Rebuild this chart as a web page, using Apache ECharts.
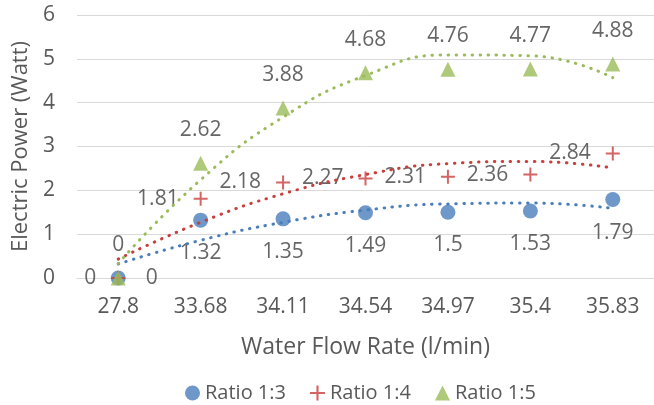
<!DOCTYPE html>
<html>
<head>
<meta charset="utf-8">
<script src="https://cdn.jsdelivr.net/npm/echarts@6/dist/echarts.min.js"></script>
<style>
  html, body { margin: 0; padding: 0; background: #fff; }
  #chart { width: 654px; height: 405px; }
</style>
</head>
<body>
<div id="chart"></div>
<script>
// Flow rates (l/min) on the category axis
const flowRates = ['27.8', '33.68', '34.11', '34.54', '34.97', '35.4', '35.83'];

// Measured electric power (Watt) per mixing ratio
const ratio13 = [0, 1.32, 1.35, 1.49, 1.5, 1.53, 1.79];
const ratio14 = [0, 1.81, 2.18, 2.27, 2.31, 2.36, 2.84];
const ratio15 = [0, 2.62, 3.88, 4.68, 4.76, 4.77, 4.88];

// Polynomial trend values at each flow rate
const trend13 = [0.32, 0.86, 1.27, 1.55, 1.69, 1.71, 1.59];
const trend14 = [0.43, 1.27, 1.92, 2.36, 2.61, 2.66, 2.51];
const trend15 = [0.33, 2.24, 3.67, 4.62, 5.09, 5.07, 4.57];

const yTicks = { min: 0, max: 6, interval: 1 };

const FONT = 'Open Sans';
const BLUE = '#4A7EBB';
const RED = '#C8403D';
const GREEN = '#9BBB59';
const TEXT = '#595959';
const PLUS = 'path://M6,0h2v6h6v2h-6v6h-2v-6h-6v-2h6z';

const chart = echarts.init(document.getElementById('chart'));

function trendSeries(data, color) {
  return {
    type: 'line',
    data: data,
    smooth: 0.5,
    symbol: 'none',
    silent: true,
    z: 5,
    lineStyle: { color: color, width: 3, type: [0.5, 7.5], cap: 'round' }
  };
}

const labelBase = { show: true, color: '#404040', fontFamily: FONT, fontSize: 21 };

chart.setOption({
  animation: false,
  textStyle: { fontFamily: FONT },
  grid: { left: 77, right: 0, top: 15, bottom: 127 },
  legend: {
    left: 180,
    top: 378,
    itemWidth: 15,
    itemHeight: 15,
    itemGap: 24,
    textStyle: { color: TEXT, fontFamily: FONT, fontSize: 20 },
    data: ['Ratio 1:3', 'Ratio 1:4', 'Ratio 1:5']
  },
  xAxis: {
    type: 'category',
    data: flowRates,
    boundaryGap: true,
    name: 'Water Flow Rate (l/min)',
    nameLocation: 'middle',
    nameGap: 58,
    nameTextStyle: { color: TEXT, fontFamily: FONT, fontSize: 23 },
    axisLine: { lineStyle: { color: '#D9D9D9' } },
    axisTick: { show: false },
    axisLabel: { color: TEXT, fontFamily: FONT, fontSize: 21, margin: 19 }
  },
  yAxis: {
    type: 'value',
    min: yTicks.min,
    max: yTicks.max,
    interval: yTicks.interval,
    name: 'Electric Power (Watt)',
    nameLocation: 'middle',
    nameGap: 45,
    nameTextStyle: { color: TEXT, fontFamily: FONT, fontSize: 22 },
    axisLine: { show: false },
    axisTick: { show: false },
    splitLine: { lineStyle: { color: '#D9D9D9', width: 1 } },
    axisLabel: { color: TEXT, fontFamily: FONT, fontSize: 21, margin: 22 }
  },
  series: [
    {
      name: 'Ratio 1:3',
      type: 'scatter',
      symbol: 'circle',
      symbolSize: 15,
      itemStyle: { color: BLUE },
      z: 3,
      label: Object.assign({}, labelBase, { position: 'bottom', distance: 15 }),
      data: ratio13.map((v, i) => i === 0 ? { value: v, label: { position: 'right', distance: 20 } } : v)
    },
    {
      name: 'Ratio 1:4',
      type: 'scatter',
      symbol: PLUS,
      symbolSize: 14,
      itemStyle: { color: RED },
      z: 3,
      label: Object.assign({}, labelBase, { position: 'left', distance: 15 }),
      data: ratio14
    },
    {
      name: 'Ratio 1:5',
      type: 'scatter',
      symbol: 'triangle',
      symbolSize: 15,
      itemStyle: { color: GREEN },
      z: 3,
      label: Object.assign({}, labelBase, { position: 'top', distance: 15 }),
      data: ratio15
    },
    trendSeries(trend13, BLUE),
    trendSeries(trend14, RED),
    trendSeries(trend15, GREEN)
  ]
});
</script>
</body>
</html>
